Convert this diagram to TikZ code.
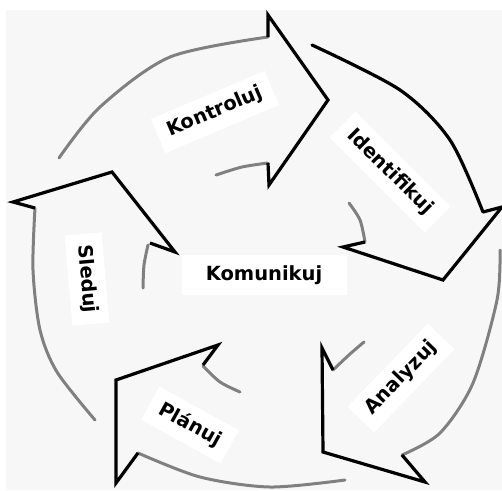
\documentclass[tikz,border=0pt]{standalone}
\usepackage{fontspec}
\setmainfont{DejaVu Sans}
\begin{document}
\begin{tikzpicture}[x=1pt,y=-1pt,
  ring/.style={draw=black!50, line width=3pt, line cap=round},
  head/.style={draw=black, line width=3.2pt, line join=miter, miter limit=20},
  lbl/.style={fill=white, inner xsep=11pt, inner ysep=9pt, font=\fontsize{19.5}{21}\selectfont\bfseries, text=black}]
\useasboundingbox (0,0) rectangle (502,490);
\fill[black!3] (6,10) rectangle (502,490);
% Kontroluj arrow
\draw[ring] plot[smooth] coordinates {(59,158) (100,107) (170,57) (268,37)};
\draw[ring] plot[smooth] coordinates {(216,175) (242,167) (268,163)};
\draw[head] (268,37) -- (268,15) -- (328,100) -- (269,185) -- (268,163);
% Identifikuj arrow
\draw[head, line cap=round] plot[smooth] coordinates {(312,45) (400,90) (450,140) (483,212)};
\draw[ring] plot[smooth] coordinates {(349,203) (360,220) (365,242)};
\draw[head] (483,212) -- (502,207) -- (443,280) -- (343,247) -- (365,242);
% Analyzuj arrow
\draw[ring] plot[smooth] coordinates {(500,250) (497,300) (473,383) (440,433) (402,455)};
\draw[ring] plot[smooth] coordinates {(333,370) (350,354) (364,342)};
\draw[head] (402,455) -- (425,482) -- (323,452) -- (322,348) -- (333,370);
% Planuj arrow
\draw[ring] plot[smooth] coordinates {(345,480) (270,487) (200,477) (138,453)};
\draw[ring] plot[smooth] coordinates {(203,366) (220,382) (240,392)};
\draw[head] (138,453) -- (116,483) -- (116,380) -- (218,345) -- (203,365);
% Sleduj arrow
\draw[ring] plot[smooth] coordinates {(95,420) (57,372) (40,330) (33,270) (35,208)};
\draw[ring] plot[smooth] coordinates {(148,245) (144,265) (143,288)};
\draw[head] (35,208) -- (13,202) -- (112,172) -- (175,252) -- (150,243);
% labels
\node[lbl, minimum width=165pt, minimum height=40pt] (kom) at (264,275) {Komunikuj};
\node[lbl, rotate=23] (kon) at (215,112) {Kontroluj};
\node[lbl, rotate=-45] (ide) at (390,172) {Identifikuj};
\node[lbl, rotate=46] (ana) at (401,378) {Analyzuj};
\node[lbl, rotate=-29] (pla) at (190,425) {Plánuj};
\node[lbl, rotate=-85] (sle) at (87,279) {Sleduj};
\end{tikzpicture}
\end{document}
